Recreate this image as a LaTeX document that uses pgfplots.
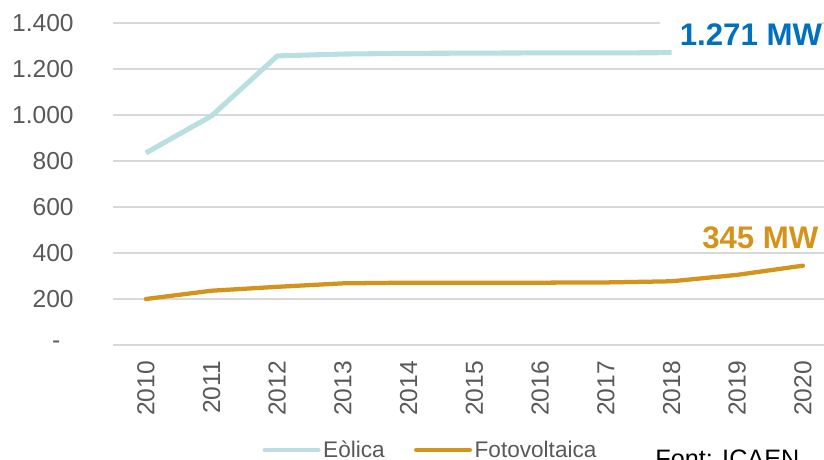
\documentclass[border=0pt]{standalone}
\usepackage{pgfplots}
\pgfplotsset{compat=1.18}
\usepackage{fontspec}
\setmainfont{Liberation Sans}

\definecolor{eolica}{HTML}{B9DFE3}
\definecolor{foto}{HTML}{D4931A}
\definecolor{blau}{HTML}{0070C0}
\definecolor{txt}{HTML}{595959}
\definecolor{gridc}{HTML}{D9D9D9}

\begin{document}
\begin{tikzpicture}
\begin{axis}[
  scale only axis, width=533.25bp, height=241.5bp,
  xmin=-0.5, xmax=10.32, ymin=0, ymax=1400,
  axis line style={draw=none},
  ymajorgrids, grid style={gridc, line width=1.2bp},
  xtick={0,...,10},
  xticklabels={2010,2011,2012,2013,2014,2015,2016,2017,2018,2019,2020},
  ytick={0,200,400,600,800,1000,1200,1400},
  yticklabels={-\kern10bp,200,400,600,800,1.000,1.200,1.400},
  major tick length=0pt,
  tick label style={font=\fontsize{18.5}{22}\selectfont, text=txt},
  xticklabel style={rotate=90, anchor=east},
  xticklabel shift=8.5bp,
  yticklabel style={xshift=-26bp},
  clip=false,
  legend style={draw=none, at={(0.447,-0.326)}, anchor=center,
    legend columns=2, font=\fontsize{17}{20}\selectfont, text=txt,
    /tikz/every even column/.append style={column sep=20bp}},
  legend image code/.code={\draw[#1, line width=3.5bp, line cap=round] (0bp,0bp) -- (40bp,0bp);},
]
\addplot[eolica, line width=3.8bp, line join=round] coordinates {
  (0,835) (1,996) (2,1257) (3,1265) (4,1268) (5,1269) (6,1270) (7,1270) (8,1271)};
\addlegendentry{Eòlica}
\addplot[foto, line width=3.2bp, line join=round, line cap=round] coordinates {
  (0,200) (1,236) (2,253) (3,268) (4,271) (5,271) (6,271) (7,272) (8,277) (9,305) (10,345)};
\addlegendentry{Fotovoltaica}
\node[anchor=east, font=\fontsize{23.5}{26}\selectfont\bfseries, text=blau, fill=white,
  inner xsep=0pt, inner ysep=3bp, outer sep=0pt]
  at (axis cs:10.29,1348) {\kern15bp 1.271 MW};
\node[anchor=east, font=\fontsize{23.5}{26}\selectfont\bfseries, text=foto, inner sep=0pt]
  at (axis cs:10.24,465) {345 MW};
\node[anchor=north west, font=\fontsize{19}{22}\selectfont, inner sep=0pt]
  at (axis cs:7.75,-455) {Font: ICAEN};
\coordinate (bl) at (rel axis cs:0,0);
\coordinate (tr) at (rel axis cs:1,1);
\end{axis}
\pgfresetboundingbox
\path[use as bounding box] ([xshift=-84.75bp,yshift=-86.25bp]bl) rectangle ([yshift=17.25bp]tr);
\end{tikzpicture}
\end{document}
